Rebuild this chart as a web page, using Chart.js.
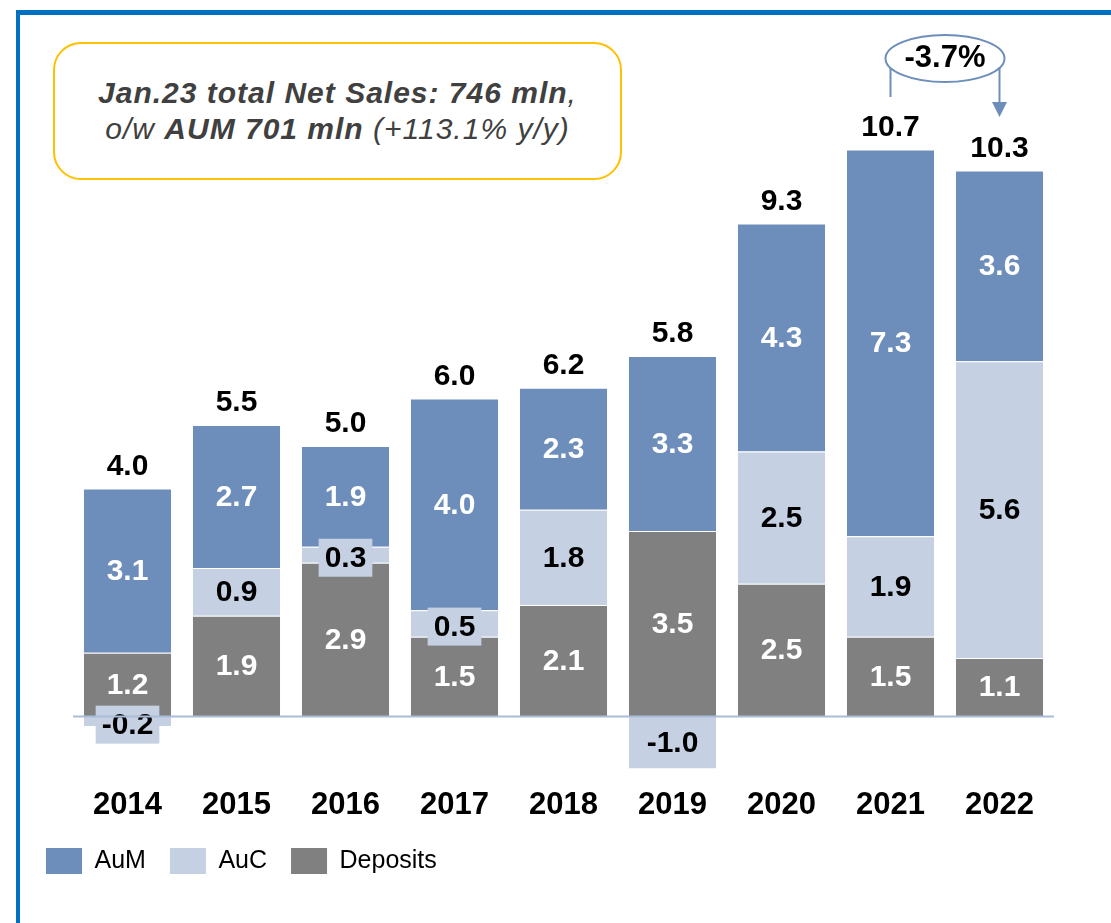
<!DOCTYPE html>
<html>
<head>
<meta charset="utf-8">
<script src="https://cdn.jsdelivr.net/npm/chart.js@4.4.0/dist/chart.umd.min.js"></script>
<style>
  body { margin: 0; background: #fff; font-family: Arial, "Liberation Sans", sans-serif; }
  #wrap { position: relative; width: 1111px; height: 923px; overflow: hidden; }
  #frame { position: absolute; left: 16px; top: 10px; right: -20px; bottom: -20px;
           border-top: 5px solid #0070c0; border-left: 4px solid #0070c0; }
  #note { position: absolute; left: 53px; top: 42px; width: 565px; height: 134px;
          border: 2px solid #ffc000; border-radius: 28px; display: flex; flex-direction: column;
          justify-content: center; text-align: center; font-style: italic; font-size: 30px;
          color: #404040; line-height: 36px; letter-spacing: 1px; }
  canvas { position: absolute; left: 0; top: 0; }
</style>
</head>
<body>
<div id="wrap">
  <div id="frame"></div>
  <div id="note">
    <div><b>Jan.23 total Net Sales: 746 mln</b>,</div>
    <div>o/w <b>AUM 701 mln</b> (+113.1% y/y)</div>
  </div>
  <canvas id="chart" width="1111" height="923"></canvas>
</div>
<script>
// data set
var years = ['2014', '2015', '2016', '2017', '2018', '2019', '2020', '2021', '2022'];
var aum = [3.1, 2.7, 1.9, 4.0, 2.3, 3.3, 4.3, 7.3, 3.6];
var auc = [-0.2, 0.9, 0.3, 0.5, 1.8, -1.0, 2.5, 1.9, 5.6];
var deposits = [1.2, 1.9, 2.9, 1.5, 2.1, 3.5, 2.5, 1.5, 1.1];
var totals = [4.0, 5.5, 5.0, 6.0, 6.2, 5.8, 9.3, 10.7, 10.3];
var changeLabel = '-3.7%';

const C_AUM = '#6d8ebb';
const C_AUC = '#c5d0e2';
const C_DEP = '#808080';
const LINE = '#6d8ebb';
const FONT = 'Arial, "Liberation Sans", sans-serif';

// labels inside the segments + totals on top
const labelPlugin = {
  id: 'segLabels',
  afterDatasetsDraw(chart) {
    const ctx = chart.ctx;
    const y = chart.scales.y;
    ctx.save();
    ctx.font = 'bold 30px ' + FONT;
    ctx.textAlign = 'center';
    ctx.textBaseline = 'middle';
    chart.data.datasets.forEach((ds, di) => {
      const meta = chart.getDatasetMeta(di);
      meta.data.forEach((bar, i) => {
        const v = ds.data[i];
        let cy = (bar.y + bar.base) / 2;
        const txt = v.toFixed(1);
        if (Math.abs(v) < 0.6) {
          cy += 3;
          const w = ctx.measureText(txt).width + 12;
          ctx.fillStyle = C_AUC;
          ctx.fillRect(bar.x - w / 2, cy - 19, w, 38);
          ctx.fillStyle = '#000';
        } else {
          ctx.fillStyle = ds.labelColor;
        }
        ctx.fillText(txt, bar.x, cy + 1);
      });
    });
    // totals
    ctx.fillStyle = '#000';
    years.forEach((yr, i) => {
      let top = 0;
      [aum[i], auc[i], deposits[i]].forEach(v => { if (v > 0) top += v; });
      const x = chart.getDatasetMeta(0).data[i].x;
      ctx.fillText(totals[i].toFixed(1), x, y.getPixelForValue(top) - 22);
    });
    // zero line
    ctx.strokeStyle = '#a9bcd8';
    ctx.lineWidth = 2;
    const y0 = Math.round(y.getPixelForValue(0)) + 0.5;
    ctx.beginPath();
    ctx.moveTo(chart.chartArea.left, y0);
    ctx.lineTo(chart.chartArea.right, y0);
    ctx.stroke();
    ctx.restore();
  }
};

// -3.7% bubble with arrow between 2021 and 2022
const changePlugin = {
  id: 'change',
  afterDraw(chart) {
    const ctx = chart.ctx;
    const bars = chart.getDatasetMeta(0).data;
    const x1 = bars[7].x, x2 = bars[8].x;
    const cx = (x1 + x2) / 2, cy = 58.5;
    ctx.save();
    ctx.strokeStyle = LINE;
    ctx.fillStyle = LINE;
    ctx.lineWidth = 2;
    ctx.beginPath();
    ctx.ellipse(cx, cy, 59.5, 23.5, 0, 0, Math.PI * 2);
    ctx.stroke();
    ctx.beginPath();
    ctx.moveTo(x1, 68);
    ctx.lineTo(x1, 97);
    ctx.moveTo(x2, 67);
    ctx.lineTo(x2, 103);
    ctx.stroke();
    ctx.beginPath();
    ctx.moveTo(x2 - 7.5, 102);
    ctx.lineTo(x2 + 7.5, 102);
    ctx.lineTo(x2, 117);
    ctx.closePath();
    ctx.fill();
    ctx.fillStyle = '#000';
    ctx.font = 'bold 31px ' + FONT;
    ctx.textAlign = 'center';
    ctx.textBaseline = 'middle';
    ctx.fillText(changeLabel, cx, cy);
    ctx.restore();
  }
};

new Chart('chart', {
  type: 'bar',
  data: {
    labels: years,
    datasets: [
      { label: 'Deposits', data: deposits, backgroundColor: C_DEP, labelColor: '#fff' },
      { label: 'AuC', data: auc, backgroundColor: C_AUC, labelColor: '#000' },
      { label: 'AuM', data: aum, backgroundColor: C_AUM, labelColor: '#fff' }
    ].map(d => Object.assign(d, {
      borderColor: '#fff',
      borderWidth: 1,
      categoryPercentage: 1,
      barPercentage: 0.817
    }))
  },
  options: {
    responsive: false,
    animation: false,
    layout: { padding: { left: 22, right: 57, top: 107, bottom: 39 } },
    scales: {
      x: {
        stacked: true,
        grid: { display: false, drawTicks: false },
        border: { display: false },
        ticks: { color: '#000', padding: 0, font: { family: FONT, size: 31, weight: 'bold' } }
      },
      y: {
        stacked: true,
        min: -1.33,
        max: 11.5,
        grid: { display: false, drawTicks: false },
        border: { display: false },
        ticks: { display: false },
        afterFit: s => { s.width = 51; }
      }
    },
    plugins: {
      tooltip: { enabled: false },
      legend: {
        position: 'bottom',
        align: 'start',
        labels: {
          color: '#000',
          boxWidth: 36,
          boxHeight: 26,
          padding: 24,
          font: { family: FONT, size: 25 },
          sort: (a, b) => b.datasetIndex - a.datasetIndex,
          generateLabels: chart => chart.data.datasets.map((d, i) => ({
            text: d.label,
            fillStyle: d.backgroundColor,
            strokeStyle: d.backgroundColor,
            lineWidth: 0,
            datasetIndex: i
          }))
        }
      }
    }
  },
  plugins: [labelPlugin, changePlugin]
});
</script>
</body>
</html>
